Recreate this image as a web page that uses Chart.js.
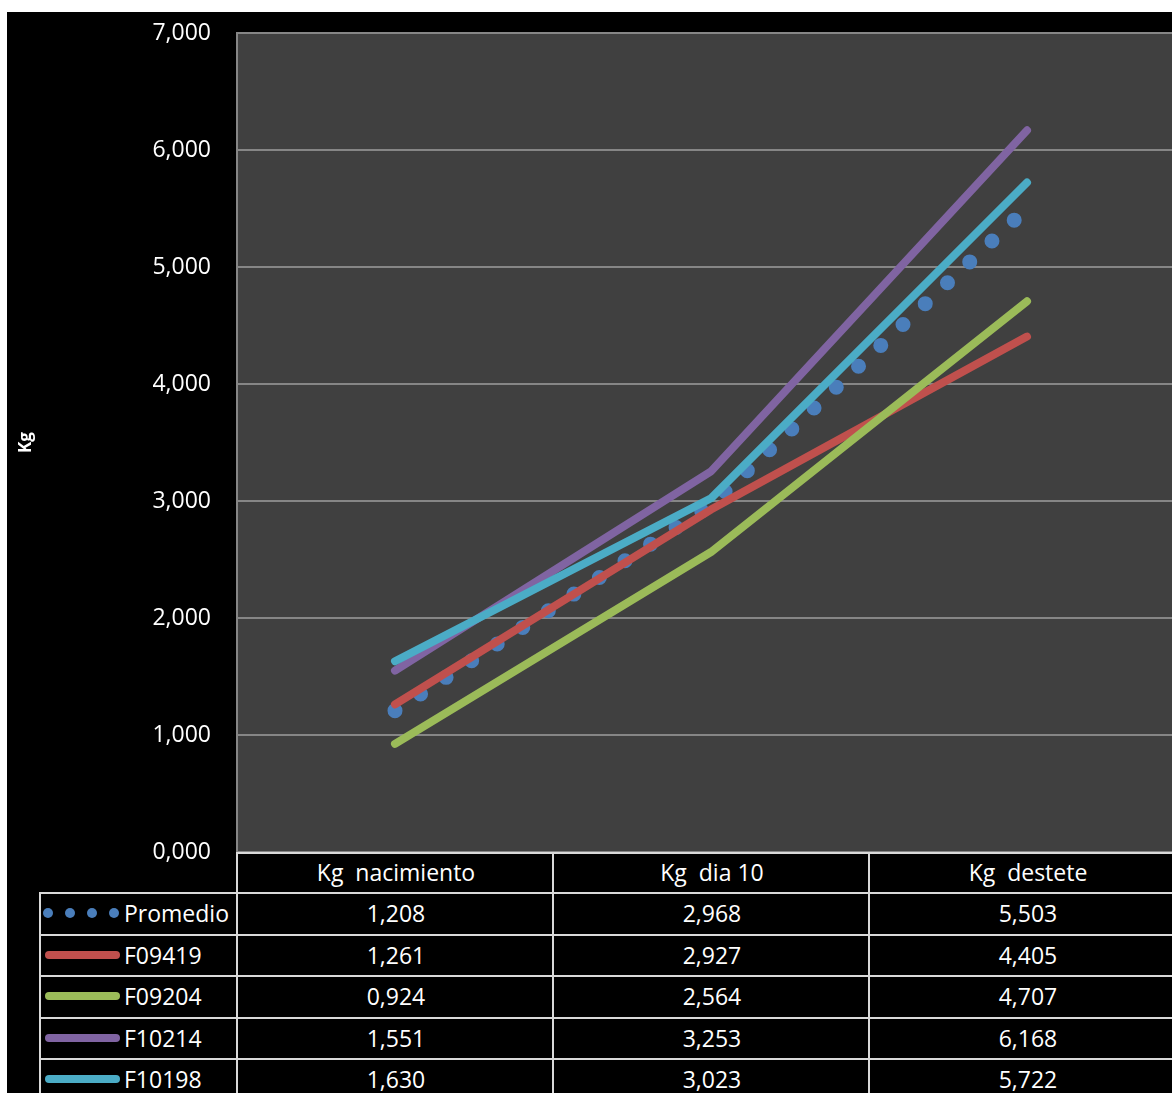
<!DOCTYPE html>
<html>
<head>
<meta charset="utf-8">
<script src="https://cdn.jsdelivr.net/npm/chart.js@4.4.0/dist/chart.umd.min.js"></script>
<style>
  html, body { margin: 0; padding: 0; background: #fff; overflow: hidden; width: 1172px; height: 1093px; }
  #wrap { position: absolute; left: 7px; top: 12px; width: 1200px; height: 1100px; background: #000; overflow: hidden; font-family: 'Open Sans', sans-serif; }
  #chart { position: absolute; left: 0; top: 0; }
  #table { position: absolute; left: 0; top: 0; }
  .cell { position: absolute; box-sizing: border-box; border-top: 2px solid #d9d9d9; border-left: 2px solid #d9d9d9; padding-bottom: 3px;
          background: #000; color: #fff; font-size: 23px; display: flex; align-items: center; justify-content: center; white-space: pre; }
  .cell.label { justify-content: flex-start; }
  .cell .name { position: absolute; left: 83px; }
  .key-line { position: absolute; left: 4px; width: 75px; height: 8px; border-radius: 4px; }
  .key-dot { position: absolute; width: 10px; height: 10px; border-radius: 50%; }
</style>
</head>
<body>
<div id="wrap">
  <canvas id="chart" width="1178" height="860"></canvas>
  <div id="table"></div>
</div>
<script>
// data
const categories = ['Kg  nacimiento', 'Kg  dia 10', 'Kg  destete'];
const seriesNames = ['Promedio', 'F09419', 'F09204', 'F10214', 'F10198'];
const promedio = [1.208, 2.968, 5.503];
const f09419 = [1.261, 2.927, 4.405];
const f09204 = [0.924, 2.564, 4.707];
const f10214 = [1.551, 3.253, 6.168];
const f10198 = [1.630, 3.023, 5.722];
const seriesValues = [promedio, f09419, f09204, f10214, f10198];

// styles
const colors = ['#4a7ebb', '#c0504d', '#9bbb59', '#8064a2', '#4bacc6'];

function fmt(v) {
    return Number(v).toFixed(3).replace('.', ',');
}

const plotBg = {
    id: 'plotBg',
    beforeDraw(chart) {
        const { ctx, chartArea } = chart;
        ctx.save();
        ctx.fillStyle = '#404040';
        ctx.fillRect(chartArea.left, chartArea.top, chartArea.right - chartArea.left, chartArea.bottom - chartArea.top);
        ctx.restore();
    }
};

const datasets = seriesNames.map((name, i) => {
    const ds = {
        label: name,
        data: seriesValues[i],
        borderColor: colors[i],
        backgroundColor: colors[i],
        borderWidth: 8,
        borderCapStyle: 'round',
        borderJoinStyle: 'round',
        pointRadius: 0,
        pointHoverRadius: 0,
        tension: 0,
        fill: false,
        order: seriesNames.length - i
    };
    if (i === 0) {
        // round dots
        ds.borderWidth = 15;
        ds.borderDash = [0, 30.5];
    }
    return ds;
});

const chart = new Chart(document.getElementById('chart'), {
    type: 'line',
    data: { labels: categories, datasets: datasets },
    options: {
        responsive: false,
        animation: false,
        layout: { padding: { left: 0, right: 0, top: 21, bottom: 20 } },
        plugins: { legend: { display: false }, tooltip: { enabled: false } },
        scales: {
            x: { display: false, offset: true },
            y: {
                min: 0,
                max: 7,
                ticks: {
                    stepSize: 1,
                    padding: 0,
                    color: '#fff',
                    font: { family: 'Open Sans', size: 23 },
                    callback: v => fmt(v)
                },
                grid: { color: '#868686', lineWidth: 2, drawTicks: true, tickLength: 26, tickColor: 'rgba(0,0,0,0)' },
                border: { color: '#868686', width: 2 },
                title: {
                    display: true,
                    text: 'Kg',
                    color: '#fff',
                    font: { family: 'Open Sans', size: 17, weight: 'bold' },
                    padding: { top: 9, bottom: 0 }
                },
                afterFit: s => { s.width = 230; }
            }
        }
    },
    plugins: [plotBg]
});

// data table under the plot, aligned to the x scale
function buildTable() {
    const table = document.getElementById('table');
    const area = chart.chartArea;
    const xs = chart.scales.x;
    const step = xs.getPixelForValue(1) - xs.getPixelForValue(0);
    const headerTop = Math.round(area.bottom);
    const headerH = 40;
    const rowH = 41.5;
    const labelLeft = 32;

    function cell(left, top, width, height, cls) {
        const d = document.createElement('div');
        d.className = 'cell' + (cls ? ' ' + cls : '');
        d.style.left = left + 'px';
        d.style.top = top + 'px';
        d.style.width = width + 'px';
        d.style.height = height + 'px';
        table.appendChild(d);
        return d;
    }

    categories.forEach((c, j) => {
        const left = xs.getPixelForValue(j) - step / 2 - 1;
        cell(left, headerTop, step + 2, headerH).textContent = c;
    });

    seriesNames.forEach((name, i) => {
        const top = headerTop + headerH + i * rowH;
        const lc = cell(labelLeft, top, area.left - 1 - labelLeft + 2, rowH + 2, 'label');
        if (i === 0) {
            [2, 24, 46, 68].forEach(x => {
                const dot = document.createElement('span');
                dot.className = 'key-dot';
                dot.style.left = x + 'px';
                dot.style.background = colors[i];
                lc.appendChild(dot);
            });
        } else {
            const line = document.createElement('span');
            line.className = 'key-line';
            line.style.background = colors[i];
            lc.appendChild(line);
        }
        const nm = document.createElement('span');
        nm.className = 'name';
        nm.textContent = name;
        lc.appendChild(nm);

        seriesValues[i].forEach((v, j) => {
            const left = xs.getPixelForValue(j) - step / 2 - 1;
            cell(left, top, step + 2, rowH + 2).textContent = fmt(v);
        });
    });
}
buildTable();
</script>
</body>
</html>
